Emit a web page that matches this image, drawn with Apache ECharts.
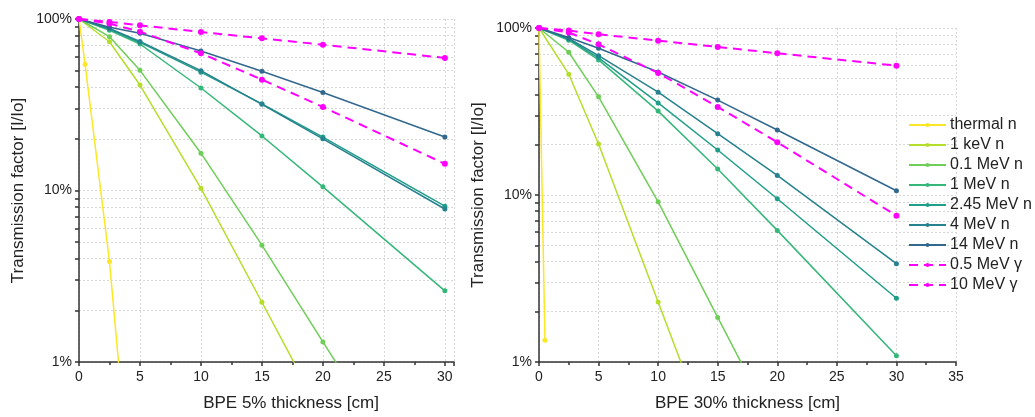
<!DOCTYPE html>
<html lang="en">
<head>
<meta charset="UTF-8">
<title>BPE transmission factor</title>
<script src="https://cdn.jsdelivr.net/npm/echarts@6/dist/echarts.min.js"></script>
<style>
  html, body { margin: 0; padding: 0; background: #fff; }
  #main { width: 1035px; height: 417px; }
</style>
</head>
<body>
<div id="main"></div>
<script>
// series names and colours (viridis for neutrons, magenta for gammas)
var names = ['thermal n', '1 keV n', '0.1 MeV n', '1 MeV n', '2.45 MeV n', '4 MeV n', '14 MeV n', '0.5 MeV γ', '10 MeV γ'];
var colors = ['#fde725', '#b5de2b', '#6ece58', '#35b779', '#1f9e89', '#26828e', '#31688e', '#ff00ff', '#ff00ff'];

// thickness in cm
var thickness = [0, 2.5, 5, 10, 15, 20, 30];
var thermalThick5 = [0, 0.5, 2.5, 5];
var thermalThick30 = [0, 0.5];

// BPE 5% : transmission factor I/Io
var bpe5Thermal = [1, 0.544, 0.0385, 0.0004];
var bpe5KeV1 = [1, 0.737, 0.412, 0.103, 0.0223, 0.0048];
var bpe5MeV01 = [1, 0.789, 0.502, 0.165, 0.048, 0.0131, 0.001];
var bpe5MeV1 = [1, 0.86, 0.715, 0.396, 0.208, 0.105, 0.026];
var bpe5MeV245 = [1, 0.875, 0.73, 0.49, 0.32, 0.205, 0.081];
var bpe5MeV4 = [1, 0.88, 0.74, 0.5, 0.318, 0.2, 0.078];
var bpe5MeV14 = [1, 0.895, 0.825, 0.651, 0.496, 0.373, 0.205];
var bpe5Gamma05 = [1, 0.94, 0.843, 0.631, 0.443, 0.307, 0.143];
var bpe5Gamma10 = [1, 0.962, 0.918, 0.84, 0.771, 0.708, 0.593];

// BPE 30% : transmission factor I/Io
var bpe30Thermal = [1, 0.0135];
var bpe30KeV1 = [1, 0.529, 0.202, 0.0229, 0.0026];
var bpe30MeV01 = [1, 0.716, 0.387, 0.091, 0.0185, 0.0038];
var bpe30MeV1 = [1, 0.845, 0.644, 0.318, 0.143, 0.0614, 0.0109];
var bpe30MeV245 = [1, 0.855, 0.662, 0.356, 0.186, 0.095, 0.0241];
var bpe30MeV4 = [1, 0.865, 0.683, 0.413, 0.233, 0.131, 0.0388];
var bpe30MeV14 = [1, 0.878, 0.756, 0.545, 0.37, 0.245, 0.106];
var bpe30Gamma05 = [1, 0.94, 0.798, 0.538, 0.337, 0.207, 0.0752];
var bpe30Gamma10 = [1, 0.965, 0.917, 0.84, 0.77, 0.706, 0.595];

// y ticks (log, with 2..9 minor values) and labelled ticks
var yTicks = [0.01, 0.02, 0.03, 0.04, 0.05, 0.06, 0.07, 0.08, 0.09,
              0.1, 0.2, 0.3, 0.4, 0.5, 0.6, 0.7, 0.8, 0.9, 1];
var yLabels = [0.01, 0.1, 1];

var font = '"Liberation Sans", Arial, sans-serif';

function pairs(xs, ys) {
    return ys.map(function (y, i) { return [xs[i], y]; });
}

function makeSeries(idx, gridIdx, xs, ys) {
    var gamma = idx >= 7;
    return {
        name: names[idx],
        type: 'line',
        xAxisIndex: gridIdx,
        yAxisIndex: gridIdx,
        data: pairs(xs, ys),
        symbol: 'circle',
        symbolSize: gamma ? 6 : 5,
        color: colors[idx],
        lineStyle: { width: gamma ? 2 : 1.5, type: gamma ? [9, 6] : 'solid' },
        clip: true,
        animation: false
    };
}

function xAxis(gridIdx, max, label, pad) {
    return {
        type: 'value', gridIndex: gridIdx, min: 0, max: max, interval: 5,
        name: label, nameLocation: 'middle', nameGap: 33,
        nameTextStyle: { fontFamily: font, fontSize: 17, color: '#222', padding: pad },
        axisLine: { lineStyle: { color: '#333', width: 1.5 } },
        axisTick: { length: 4, lineStyle: { color: '#333', width: 1.5 } },
        minorTick: { show: true, splitNumber: 2, length: 3, lineStyle: { color: '#333', width: 1.5 } },
        axisLabel: { fontFamily: font, fontSize: 14, color: '#222', margin: 8 },
        splitLine: { show: true, lineStyle: { color: '#d6d6d6', type: [2, 2], width: 1 } }
    };
}

function yAxis(gridIdx) {
    return {
        type: 'log', gridIndex: gridIdx, logBase: 10, min: 0.01, max: 1,
        name: 'Transmission factor [I/Io]', nameLocation: 'middle', nameGap: 52,
        nameTextStyle: { fontFamily: font, fontSize: 17, color: '#222' },
        axisLine: { show: true, lineStyle: { color: '#333', width: 1.5 } },
        axisTick: { show: true, inside: false, length: 4, customValues: yTicks,
                    lineStyle: { color: '#333', width: 1.5 } },
        axisLabel: { fontFamily: font, fontSize: 14, color: '#222', margin: 7,
                     customValues: yLabels,
                     formatter: function (v) { return Math.round(v * 100) + '%'; } },
        splitLine: { show: true, lineStyle: { color: '#d6d6d6', type: [2, 2], width: 1 } }
    };
}

var chart = echarts.init(document.getElementById('main'));

var series = [
    makeSeries(0, 0, thermalThick5, bpe5Thermal),
    makeSeries(1, 0, thickness, bpe5KeV1),
    makeSeries(2, 0, thickness, bpe5MeV01),
    makeSeries(3, 0, thickness, bpe5MeV1),
    makeSeries(4, 0, thickness, bpe5MeV245),
    makeSeries(5, 0, thickness, bpe5MeV4),
    makeSeries(6, 0, thickness, bpe5MeV14),
    makeSeries(7, 0, thickness, bpe5Gamma05),
    makeSeries(8, 0, thickness, bpe5Gamma10),
    makeSeries(0, 1, thermalThick30, bpe30Thermal),
    makeSeries(1, 1, thickness, bpe30KeV1),
    makeSeries(2, 1, thickness, bpe30MeV01),
    makeSeries(3, 1, thickness, bpe30MeV1),
    makeSeries(4, 1, thickness, bpe30MeV245),
    makeSeries(5, 1, thickness, bpe30MeV4),
    makeSeries(6, 1, thickness, bpe30MeV14),
    makeSeries(7, 1, thickness, bpe30Gamma05),
    makeSeries(8, 1, thickness, bpe30Gamma10)
];

chart.setOption({
    backgroundColor: '#fff',
    animation: false,
    grid: [
        { left: 79, top: 19, width: 375, bottom: 55, containLabel: false },
        { left: 539, top: 28, width: 417, bottom: 54, containLabel: false }
    ],
    xAxis: [
        xAxis(0, 30.75, 'BPE 5% thickness [cm]', [0, 0, 0, 49]),
        xAxis(1, 35, 'BPE 30% thickness [cm]', 0)
    ],
    yAxis: [yAxis(0), yAxis(1)],
    legend: {
        data: names,
        orient: 'vertical',
        left: 908, top: 117, padding: 0,
        itemWidth: 37, itemHeight: 5, itemGap: 4,
        textStyle: { fontFamily: font, fontSize: 16, color: '#222', lineHeight: 16, padding: [0, 0, 0, -1] }
    },
    series: series
});
</script>
</body>
</html>
